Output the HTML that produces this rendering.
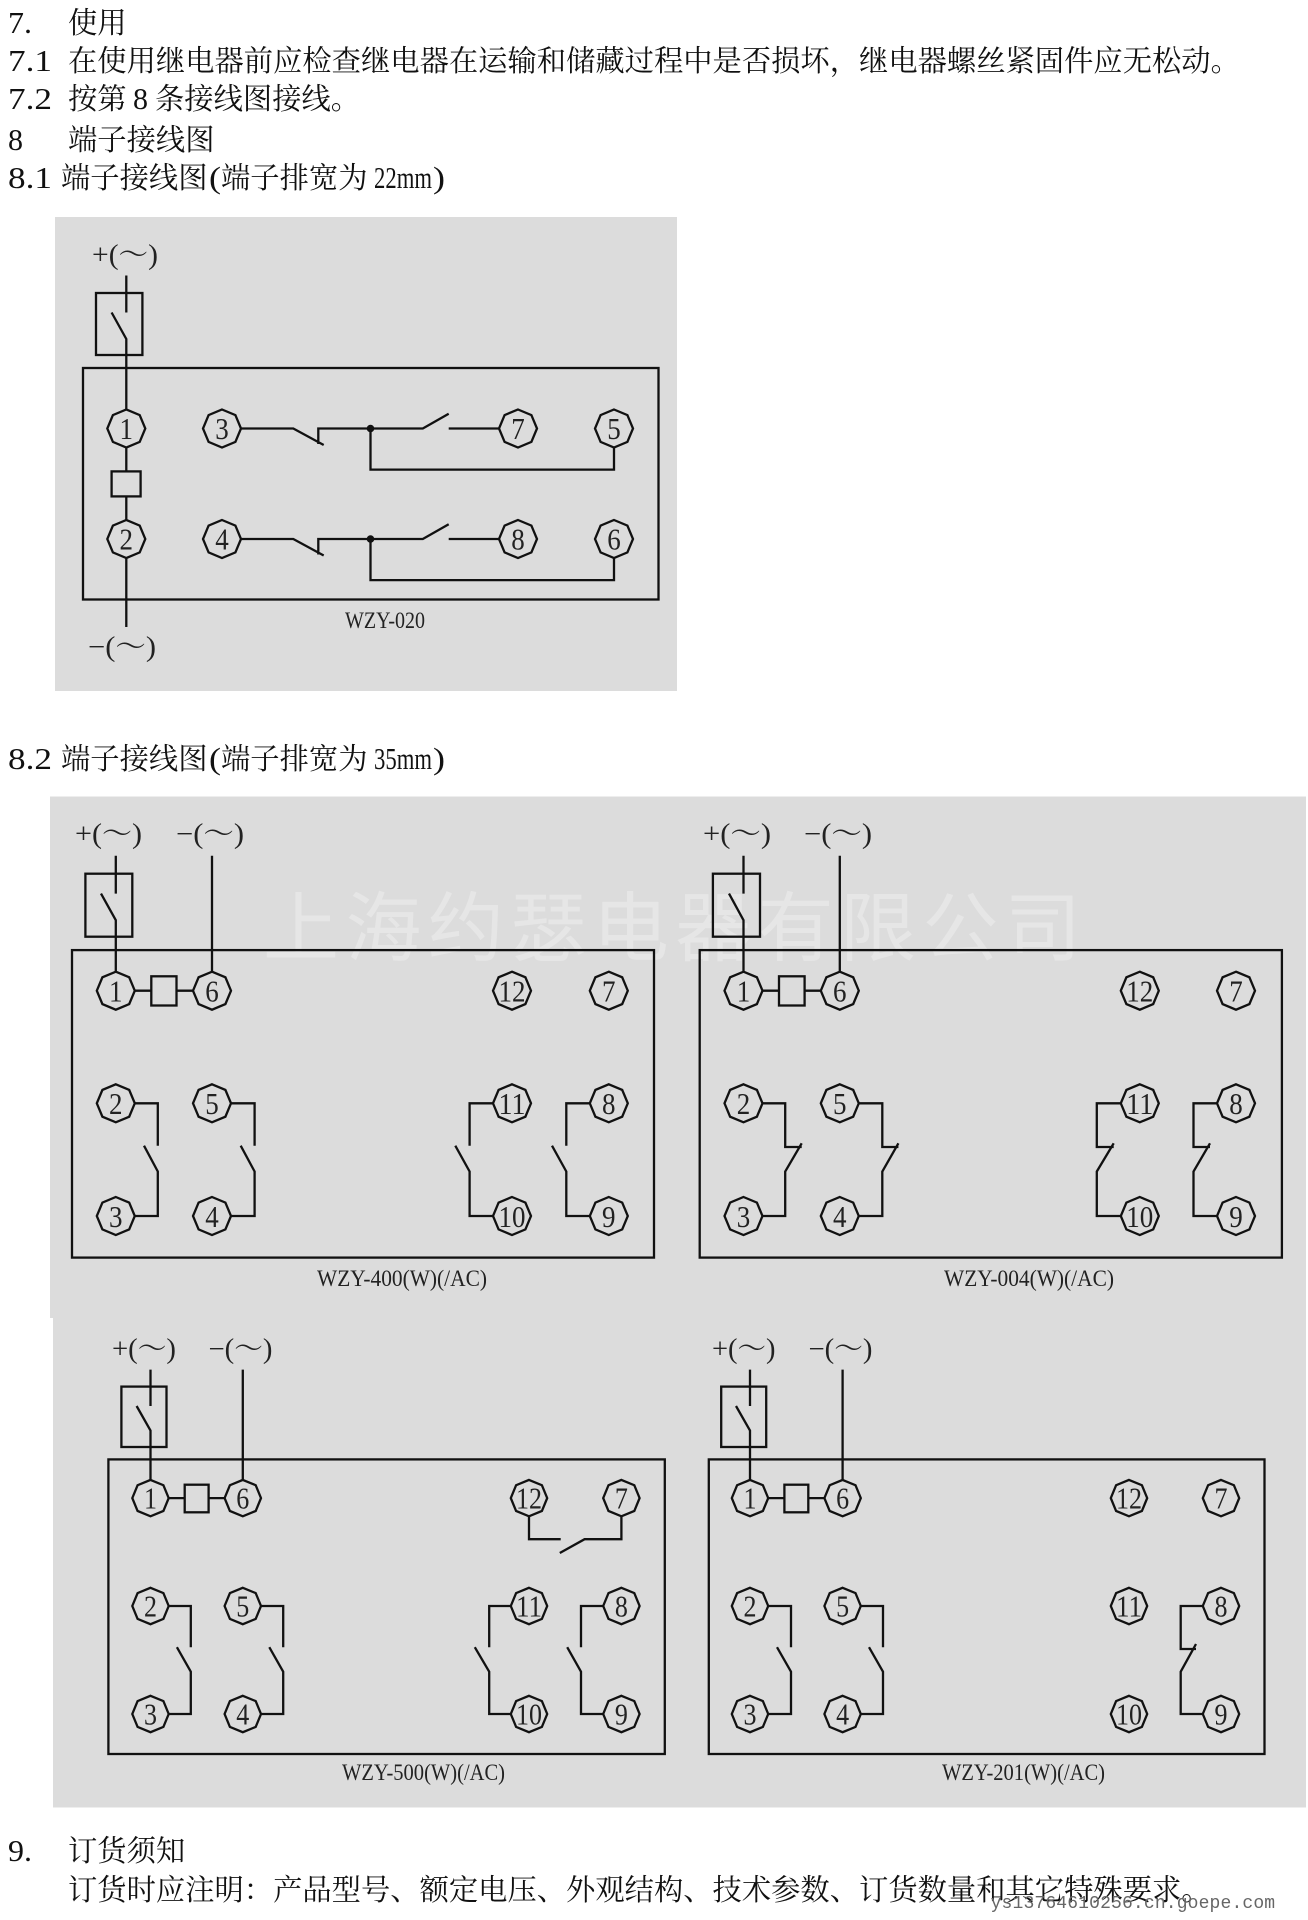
<!DOCTYPE html>
<html><head><meta charset="utf-8"><style>
html,body{margin:0;padding:0;background:#fff}
svg{display:block}
.t{font-family:"Liberation Serif","Noto Serif CJK SC",serif;font-size:29.3px;fill:#111}
.l{font-family:"Liberation Serif","Noto Serif CJK SC",serif;font-size:31px;fill:#111}
.s{font-family:"Liberation Serif","Noto Serif CJK SC",serif;font-size:28px;fill:#222}
.w{font-family:"Liberation Serif",serif;font-size:23px;fill:#222}
.n{font-family:"Liberation Serif",serif;font-size:31px;fill:#222;text-anchor:middle}
.k{fill:none;stroke:#111;stroke-width:2.3}
.f{fill:#dcdcdc;stroke:#111;stroke-width:2.3}
</style></head><body>
<svg xmlns="http://www.w3.org/2000/svg" width="1308" height="1920" viewBox="0 0 1308 1920">
<defs>
<polygon id="a" class="f" points="0,-19 13.4,-13.4 19,0 13.4,13.4 0,19 -13.4,13.4 -19,0 -13.4,-13.4"/>
<polygon id="c" class="f" points="0,-18.2 12.9,-12.9 18.2,0 12.9,12.9 0,18.2 -12.9,12.9 -18.2,0 -12.9,-12.9"/>
</defs>

<!-- top text -->
<text class="l" x="8" y="33" textLength="24" lengthAdjust="spacingAndGlyphs">7.</text><text class="t" x="68" y="33">使用</text>
<text class="l" x="8" y="71" textLength="44" lengthAdjust="spacingAndGlyphs">7.1</text><text class="t" x="68" y="71">在使用继电器前应检查继电器在运输和储藏过程中是否损坏，继电器螺丝紧固件应无松动。</text>
<text class="l" x="8" y="109" textLength="44" lengthAdjust="spacingAndGlyphs">7.2</text><text class="t" x="68" y="109">按第</text><text class="l" x="133" y="109" textLength="15" lengthAdjust="spacingAndGlyphs">8</text><text class="t" x="155" y="109">条接线图接线。</text>
<text class="l" x="8" y="150" textLength="15" lengthAdjust="spacingAndGlyphs">8</text><text class="t" x="68" y="150">端子接线图</text>
<text class="l" x="8" y="188" textLength="44" lengthAdjust="spacingAndGlyphs">8.1</text><text class="t" x="61" y="188">端子接线图</text><text class="l" x="209" y="188" textLength="12" lengthAdjust="spacingAndGlyphs">(</text><text class="t" x="221" y="188">端子排宽为</text><text class="l" x="374" y="188" textLength="58" lengthAdjust="spacingAndGlyphs">22mm</text><text class="l" x="433" y="188" textLength="12" lengthAdjust="spacingAndGlyphs">)</text>
<text class="l" x="8" y="769" textLength="44" lengthAdjust="spacingAndGlyphs">8.2</text><text class="t" x="61" y="769">端子接线图</text><text class="l" x="209" y="769" textLength="12" lengthAdjust="spacingAndGlyphs">(</text><text class="t" x="221" y="769">端子排宽为</text><text class="l" x="374" y="769" textLength="58" lengthAdjust="spacingAndGlyphs">35mm</text><text class="l" x="433" y="769" textLength="12" lengthAdjust="spacingAndGlyphs">)</text>

<!-- grey panels -->
<rect x="55" y="217" width="622" height="474" fill="#dcdcdc"/>
<rect x="50" y="796.5" width="1256" height="521.5" fill="#dcdcdc"/>
<rect x="53" y="1318" width="1253" height="489.5" fill="#dcdcdc"/>
<text x="263" y="955" font-family="'Noto Sans CJK SC',sans-serif" font-size="76" fill="#e6e6e6" textLength="818">上海约瑟电器有限公司</text>

<!-- panel 1 : WZY-020 -->
<rect class="k" x="83" y="368" width="575.5" height="231.5"/>
<rect class="k" x="96" y="293" width="46.4" height="62"/>
<path class="k" d="M126.3 275.5V312.5M111.6 312.5L126.3 339V627"/>
<rect class="f" x="111.6" y="471.4" width="29" height="25"/>
<path class="k" d="M222 428.5H293.3L323.7 445M318.3 444V428.5H422.8L448.7 413.8M448.7 428.5H518M370.5 428.5V469.6H614V428.5"/>
<path class="k" d="M222 539H293.3L323.7 555.5M318.3 554.5V539H422.8L448.7 524.3M448.7 539H518M370.5 539V580.1H614V539"/>
<circle cx="370.5" cy="428.5" r="3.8" fill="#111"/><circle cx="370.5" cy="539" r="3.8" fill="#111"/>
<use href="#a" x="126.3" y="428.5"/><text class="n" x="126.3" y="439" textLength="13.5" lengthAdjust="spacingAndGlyphs">1</text>
<use href="#a" x="222" y="428.5"/><text class="n" x="222" y="439" textLength="13.5" lengthAdjust="spacingAndGlyphs">3</text>
<use href="#a" x="518" y="428.5"/><text class="n" x="518" y="439" textLength="13.5" lengthAdjust="spacingAndGlyphs">7</text>
<use href="#a" x="614" y="428.5"/><text class="n" x="614" y="439" textLength="13.5" lengthAdjust="spacingAndGlyphs">5</text>
<use href="#a" x="126.3" y="539"/><text class="n" x="126.3" y="549.5" textLength="13.5" lengthAdjust="spacingAndGlyphs">2</text>
<use href="#a" x="222" y="539"/><text class="n" x="222" y="549.5" textLength="13.5" lengthAdjust="spacingAndGlyphs">4</text>
<use href="#a" x="518" y="539"/><text class="n" x="518" y="549.5" textLength="13.5" lengthAdjust="spacingAndGlyphs">8</text>
<use href="#a" x="614" y="539"/><text class="n" x="614" y="549.5" textLength="13.5" lengthAdjust="spacingAndGlyphs">6</text>
<text class="s" x="92" y="264" textLength="66" lengthAdjust="spacingAndGlyphs">+(～)</text>
<text class="s" x="88" y="656" textLength="68" lengthAdjust="spacingAndGlyphs">−(～)</text>
<text class="w" x="345" y="628" textLength="80" lengthAdjust="spacingAndGlyphs">WZY-020</text>

<!-- panel A : WZY-400 -->
<rect class="k" x="72" y="950.1" width="582" height="307.5"/>
<rect class="k" x="85.4" y="873.7" width="46.9" height="63"/>
<path class="k" d="M115.8 855.8V893.6M101 893.6L115.8 920.2V990.7H212M212 855.8V990.7"/>
<rect class="f" x="151.3" y="976.3" width="25.2" height="29.2"/>
<path class="k" d="M115.8 1103.3H157.8V1145.7M144 1145.7L157.8 1171.5V1216H115.8"/>
<path class="k" d="M212 1103.3H254.6V1145.7M240.7 1145.7L254.6 1171.5V1216H212"/>
<path class="k" d="M512 1103.3H469.6V1145.7M455.3 1145.7L469.6 1171.5V1216H512"/>
<path class="k" d="M608.8 1103.3H566.3V1145.7M552 1145.7L566.3 1171.5V1216H608.8"/>
<use href="#a" x="115.8" y="990.7"/><text class="n" x="115.8" y="1001.5" textLength="13.5" lengthAdjust="spacingAndGlyphs">1</text>
<use href="#a" x="212" y="990.7"/><text class="n" x="212" y="1001.5" textLength="13.5" lengthAdjust="spacingAndGlyphs">6</text>
<use href="#a" x="512" y="990.7"/><text class="n" x="512" y="1001.5" textLength="27" lengthAdjust="spacingAndGlyphs">12</text>
<use href="#a" x="608.8" y="990.7"/><text class="n" x="608.8" y="1001.5" textLength="13.5" lengthAdjust="spacingAndGlyphs">7</text>
<use href="#a" x="115.8" y="1103.3"/><text class="n" x="115.8" y="1114" textLength="13.5" lengthAdjust="spacingAndGlyphs">2</text>
<use href="#a" x="212" y="1103.3"/><text class="n" x="212" y="1114" textLength="13.5" lengthAdjust="spacingAndGlyphs">5</text>
<use href="#a" x="512" y="1103.3"/><text class="n" x="512" y="1114" textLength="27" lengthAdjust="spacingAndGlyphs">11</text>
<use href="#a" x="608.8" y="1103.3"/><text class="n" x="608.8" y="1114" textLength="13.5" lengthAdjust="spacingAndGlyphs">8</text>
<use href="#a" x="115.8" y="1216"/><text class="n" x="115.8" y="1226.8" textLength="13.5" lengthAdjust="spacingAndGlyphs">3</text>
<use href="#a" x="212" y="1216"/><text class="n" x="212" y="1226.8" textLength="13.5" lengthAdjust="spacingAndGlyphs">4</text>
<use href="#a" x="512" y="1216"/><text class="n" x="512" y="1226.8" textLength="27" lengthAdjust="spacingAndGlyphs">10</text>
<use href="#a" x="608.8" y="1216"/><text class="n" x="608.8" y="1226.8" textLength="13.5" lengthAdjust="spacingAndGlyphs">9</text>
<text class="s" x="75" y="843" textLength="67" lengthAdjust="spacingAndGlyphs">+(～)</text>
<text class="s" x="176" y="843" textLength="68" lengthAdjust="spacingAndGlyphs">−(～)</text>
<text class="w" x="317" y="1286" textLength="170" lengthAdjust="spacingAndGlyphs">WZY-400(W)(/AC)</text>

<!-- panel B : WZY-004 -->
<rect class="k" x="699.7" y="950.1" width="582.2" height="307.5"/>
<rect class="k" x="712.9" y="873.7" width="47.1" height="63"/>
<path class="k" d="M743.5 855.8V893.6M729 893.6L743.5 920.2V990.7H839.8M839.8 855.8V990.7"/>
<rect class="f" x="779" y="976.3" width="25.6" height="29.2"/>
<path class="k" d="M743.5 1103.3H785.2V1147H801.7M743.5 1216H785.2V1171.5L801.7 1143.3"/>
<path class="k" d="M839.8 1103.3H882.3V1147H898.4M839.8 1216H882.3V1171.5L898.4 1143.3"/>
<path class="k" d="M1139.8 1103.3H1096.8V1147H1113.7M1139.8 1216H1096.8V1171.5L1113.7 1143.3"/>
<path class="k" d="M1236 1103.3H1193.5V1147H1210M1236 1216H1193.5V1171.5L1210 1143.3"/>
<use href="#a" x="743.5" y="990.7"/><text class="n" x="743.5" y="1001.5" textLength="13.5" lengthAdjust="spacingAndGlyphs">1</text>
<use href="#a" x="839.8" y="990.7"/><text class="n" x="839.8" y="1001.5" textLength="13.5" lengthAdjust="spacingAndGlyphs">6</text>
<use href="#a" x="1139.8" y="990.7"/><text class="n" x="1139.8" y="1001.5" textLength="27" lengthAdjust="spacingAndGlyphs">12</text>
<use href="#a" x="1236" y="990.7"/><text class="n" x="1236" y="1001.5" textLength="13.5" lengthAdjust="spacingAndGlyphs">7</text>
<use href="#a" x="743.5" y="1103.3"/><text class="n" x="743.5" y="1114" textLength="13.5" lengthAdjust="spacingAndGlyphs">2</text>
<use href="#a" x="839.8" y="1103.3"/><text class="n" x="839.8" y="1114" textLength="13.5" lengthAdjust="spacingAndGlyphs">5</text>
<use href="#a" x="1139.8" y="1103.3"/><text class="n" x="1139.8" y="1114" textLength="27" lengthAdjust="spacingAndGlyphs">11</text>
<use href="#a" x="1236" y="1103.3"/><text class="n" x="1236" y="1114" textLength="13.5" lengthAdjust="spacingAndGlyphs">8</text>
<use href="#a" x="743.5" y="1216"/><text class="n" x="743.5" y="1226.8" textLength="13.5" lengthAdjust="spacingAndGlyphs">3</text>
<use href="#a" x="839.8" y="1216"/><text class="n" x="839.8" y="1226.8" textLength="13.5" lengthAdjust="spacingAndGlyphs">4</text>
<use href="#a" x="1139.8" y="1216"/><text class="n" x="1139.8" y="1226.8" textLength="27" lengthAdjust="spacingAndGlyphs">10</text>
<use href="#a" x="1236" y="1216"/><text class="n" x="1236" y="1226.8" textLength="13.5" lengthAdjust="spacingAndGlyphs">9</text>
<text class="s" x="703" y="843" textLength="68" lengthAdjust="spacingAndGlyphs">+(～)</text>
<text class="s" x="804" y="843" textLength="68" lengthAdjust="spacingAndGlyphs">−(～)</text>
<text class="w" x="944" y="1286" textLength="170" lengthAdjust="spacingAndGlyphs">WZY-004(W)(/AC)</text>

<!-- panel C : WZY-500 -->
<rect class="k" x="108.4" y="1459.4" width="556.4" height="294.6"/>
<rect class="k" x="121.4" y="1386.6" width="45.1" height="60.4"/>
<path class="k" d="M150.5 1369.6V1406M136.6 1406L150.5 1430.5V1498.1H242.8M242.8 1369.6V1498.1"/>
<rect class="f" x="184.7" y="1484.7" width="23.9" height="27.6"/>
<path class="k" d="M529 1498.1V1539.2H560.7M621.4 1498.1V1539.2H584.6L559.8 1553"/>
<path class="k" d="M150.5 1606H190.8V1647.2M176.9 1647.2L190.8 1671.7V1714H150.5"/>
<path class="k" d="M242.8 1606H283.2V1647.2M269.3 1647.2L283.2 1671.7V1714H242.8"/>
<path class="k" d="M529 1606H489.2V1647.2M474.8 1647.2L489.2 1671.7V1714H529"/>
<path class="k" d="M621.4 1606H581V1647.2M567.2 1647.2L581 1671.7V1714H621.4"/>
<use href="#c" x="150.5" y="1498.1"/><text class="n" x="150.5" y="1508.5" textLength="13" lengthAdjust="spacingAndGlyphs">1</text>
<use href="#c" x="242.8" y="1498.1"/><text class="n" x="242.8" y="1508.5" textLength="13" lengthAdjust="spacingAndGlyphs">6</text>
<use href="#c" x="529" y="1498.1"/><text class="n" x="529" y="1508.5" textLength="26" lengthAdjust="spacingAndGlyphs">12</text>
<use href="#c" x="621.4" y="1498.1"/><text class="n" x="621.4" y="1508.5" textLength="13" lengthAdjust="spacingAndGlyphs">7</text>
<use href="#c" x="150.5" y="1606"/><text class="n" x="150.5" y="1616.5" textLength="13" lengthAdjust="spacingAndGlyphs">2</text>
<use href="#c" x="242.8" y="1606"/><text class="n" x="242.8" y="1616.5" textLength="13" lengthAdjust="spacingAndGlyphs">5</text>
<use href="#c" x="529" y="1606"/><text class="n" x="529" y="1616.5" textLength="26" lengthAdjust="spacingAndGlyphs">11</text>
<use href="#c" x="621.4" y="1606"/><text class="n" x="621.4" y="1616.5" textLength="13" lengthAdjust="spacingAndGlyphs">8</text>
<use href="#c" x="150.5" y="1714"/><text class="n" x="150.5" y="1724.5" textLength="13" lengthAdjust="spacingAndGlyphs">3</text>
<use href="#c" x="242.8" y="1714"/><text class="n" x="242.8" y="1724.5" textLength="13" lengthAdjust="spacingAndGlyphs">4</text>
<use href="#c" x="529" y="1714"/><text class="n" x="529" y="1724.5" textLength="26" lengthAdjust="spacingAndGlyphs">10</text>
<use href="#c" x="621.4" y="1714"/><text class="n" x="621.4" y="1724.5" textLength="13" lengthAdjust="spacingAndGlyphs">9</text>
<text class="s" x="112" y="1358" textLength="64" lengthAdjust="spacingAndGlyphs">+(～)</text>
<text class="s" x="208.5" y="1358" textLength="64" lengthAdjust="spacingAndGlyphs">−(～)</text>
<text class="w" x="342" y="1780" textLength="163" lengthAdjust="spacingAndGlyphs">WZY-500(W)(/AC)</text>

<!-- panel D : WZY-201 -->
<rect class="k" x="708.8" y="1459.4" width="555.7" height="294.6"/>
<rect class="k" x="721.2" y="1386.6" width="45" height="60.4"/>
<path class="k" d="M750 1369.6V1406M736 1406L750 1430.5V1498.1H842.6M842.6 1369.6V1498.1"/>
<rect class="f" x="784.4" y="1484.7" width="23.9" height="27.6"/>
<path class="k" d="M750 1606H791V1647.2M777 1647.2L791 1671.7V1714H750"/>
<path class="k" d="M842.6 1606H883V1647.2M869 1647.2L883 1671.7V1714H842.6"/>
<path class="k" d="M1221 1606H1180.7V1649H1196M1221 1714H1180.7V1671.7L1196 1644"/>
<use href="#c" x="750" y="1498.1"/><text class="n" x="750" y="1508.5" textLength="13" lengthAdjust="spacingAndGlyphs">1</text>
<use href="#c" x="842.6" y="1498.1"/><text class="n" x="842.6" y="1508.5" textLength="13" lengthAdjust="spacingAndGlyphs">6</text>
<use href="#c" x="1129" y="1498.1"/><text class="n" x="1129" y="1508.5" textLength="26" lengthAdjust="spacingAndGlyphs">12</text>
<use href="#c" x="1221" y="1498.1"/><text class="n" x="1221" y="1508.5" textLength="13" lengthAdjust="spacingAndGlyphs">7</text>
<use href="#c" x="750" y="1606"/><text class="n" x="750" y="1616.5" textLength="13" lengthAdjust="spacingAndGlyphs">2</text>
<use href="#c" x="842.6" y="1606"/><text class="n" x="842.6" y="1616.5" textLength="13" lengthAdjust="spacingAndGlyphs">5</text>
<use href="#c" x="1129" y="1606"/><text class="n" x="1129" y="1616.5" textLength="26" lengthAdjust="spacingAndGlyphs">11</text>
<use href="#c" x="1221" y="1606"/><text class="n" x="1221" y="1616.5" textLength="13" lengthAdjust="spacingAndGlyphs">8</text>
<use href="#c" x="750" y="1714"/><text class="n" x="750" y="1724.5" textLength="13" lengthAdjust="spacingAndGlyphs">3</text>
<use href="#c" x="842.6" y="1714"/><text class="n" x="842.6" y="1724.5" textLength="13" lengthAdjust="spacingAndGlyphs">4</text>
<use href="#c" x="1129" y="1714"/><text class="n" x="1129" y="1724.5" textLength="26" lengthAdjust="spacingAndGlyphs">10</text>
<use href="#c" x="1221" y="1714"/><text class="n" x="1221" y="1724.5" textLength="13" lengthAdjust="spacingAndGlyphs">9</text>
<text class="s" x="712" y="1358" textLength="63.5" lengthAdjust="spacingAndGlyphs">+(～)</text>
<text class="s" x="808.5" y="1358" textLength="64" lengthAdjust="spacingAndGlyphs">−(～)</text>
<text class="w" x="942" y="1780" textLength="163" lengthAdjust="spacingAndGlyphs">WZY-201(W)(/AC)</text>

<!-- bottom text -->
<text class="l" x="8" y="1861" textLength="24" lengthAdjust="spacingAndGlyphs">9.</text><text class="t" x="68" y="1861">订货须知</text>
<text class="t" x="68" y="1900">订货时应注明：产品型号、额定电压、外观结构、技术参数、订货数量和其它特殊要求。</text>
<text x="990.6" y="1908" font-family="'Liberation Mono',monospace" font-size="18" fill="#666" textLength="284.5">ys13764610256.cn.goepe.com</text>
</svg>
</body></html>
